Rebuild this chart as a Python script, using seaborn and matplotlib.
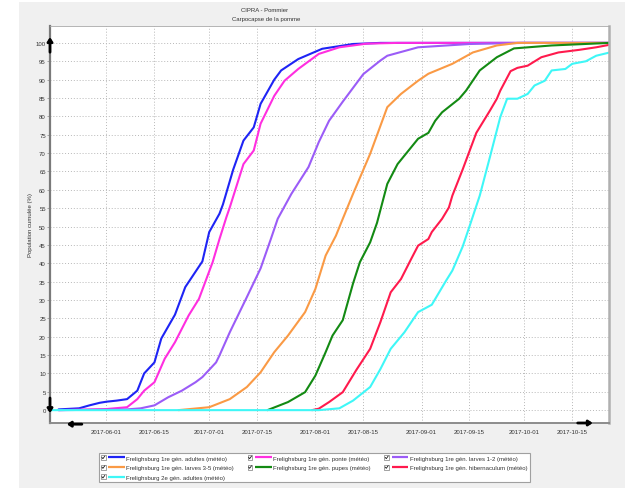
import matplotlib
matplotlib.use("Agg")
import matplotlib.pyplot as plt
import matplotlib.dates as mdates
from matplotlib.lines import Line2D
from matplotlib.patches import Rectangle
from matplotlib.legend_handler import HandlerBase
import pandas as pd
import seaborn as sns

# ---- Cumulative population (%) per development stage, Frelighsburg 2017 ----
adultes1_dates = ["05-18", "05-24", "05-27", "05-30", "06-01", "06-04", "06-07", "06-10",
                  "06-12", "06-15", "06-17", "06-21", "06-24", "06-29", "07-01", "07-04",
                  "07-05", "07-08", "07-11", "07-14", "07-16", "07-20", "07-22", "07-27",
                  "08-03", "08-12", "08-20", "10-26"]
adultes1_pct = [0.2, 0.5, 1.3, 2.0, 2.3, 2.6, 3.0, 5.3, 10.0, 13.0, 19.5, 26.0, 33.5, 40.5,
                48.5, 53.5, 56.0, 65.5, 73.4, 77.0, 83.4, 90.0, 92.5, 95.6, 98.4, 99.7,
                100.0, 100.0]

ponte_dates = ["05-18", "06-01", "06-07", "06-10", "06-12", "06-15", "06-18", "06-21",
               "06-25", "06-28", "07-02", "07-04", "07-06", "07-07", "07-11", "07-14",
               "07-16", "07-20", "07-23", "07-27", "08-02", "08-08", "08-16", "08-25",
               "10-26"]
ponte_pct = [0.0, 0.3, 0.8, 3.0, 5.3, 7.6, 14.0, 18.5, 25.8, 30.3, 40.3, 46.6, 52.5, 55.2,
             67.0, 70.7, 78.0, 85.6, 89.7, 92.9, 97.0, 98.8, 99.8, 100.0, 100.0]

larves12_dates = ["05-18", "06-07", "06-11", "06-15", "06-19", "06-23", "06-27", "06-29",
                  "07-03", "07-04", "07-07", "07-12", "07-16", "07-19", "07-21", "07-25",
                  "07-30", "08-02", "08-05", "08-09", "08-15", "08-20", "08-22", "08-31",
                  "09-15", "10-01", "10-26"]
larves12_pct = [0.0, 0.2, 0.5, 1.3, 3.5, 5.3, 7.6, 9.0, 13.0, 14.9, 21.2, 30.8, 38.6, 46.6,
                52.1, 58.9, 66.2, 73.0, 78.8, 84.0, 91.5, 95.2, 96.5, 98.8, 99.7, 100.0,
                100.0]

larves35_dates = ["06-22", "07-01", "07-07", "07-12", "07-16", "07-20", "07-24", "07-29",
                  "08-01", "08-04", "08-07", "08-09", "08-12", "08-17", "08-22", "08-26",
                  "08-31", "09-03", "09-10", "09-16", "09-23", "09-29", "10-26"]
larves35_pct = [0.0, 0.8, 3.0, 6.3, 10.3, 15.8, 20.3, 26.7, 33.0, 42.1, 47.5, 52.1, 58.9,
                69.8, 82.5, 86.1, 89.7, 91.6, 94.3, 97.4, 99.3, 100.0, 100.0]

pupes_dates = ["07-18", "07-24", "07-29", "08-01", "08-04", "08-06", "08-09", "08-12",
               "08-14", "08-17", "08-19", "08-22", "08-25", "08-31", "09-03", "09-05",
               "09-07", "09-12", "09-14", "09-18", "09-23", "09-28", "10-09", "10-26"]
pupes_pct = [0.0, 2.2, 4.9, 9.4, 15.8, 20.3, 24.5, 34.5, 40.3, 45.7, 51.0, 61.6, 67.0, 73.9,
             75.5, 78.8, 81.1, 84.8, 87.0, 92.5, 96.1, 98.5, 99.3, 100.0]

hibern_dates = ["07-31", "08-02", "08-05", "08-09", "08-13", "08-17", "08-20", "08-23",
                "08-26", "08-29", "08-31", "09-03", "09-04", "09-07", "09-09", "09-10",
                "09-13", "09-17", "09-21", "09-23", "09-24", "09-27", "09-29", "10-02",
                "10-06", "10-11", "10-17", "10-22", "10-26"]
hibern_pct = [0.0, 0.4, 2.2, 4.9, 11.0, 16.7, 24.0, 32.1, 35.7, 41.2, 44.8, 46.6, 48.5, 52.1,
              55.2, 58.4, 65.5, 75.5, 81.6, 84.8, 87.0, 92.3, 93.2, 93.8, 96.1, 97.4, 98.1,
              98.8, 99.5]

adultes2_dates = ["05-15", "08-02", "08-08", "08-12", "08-17", "08-20", "08-23", "08-27",
                  "08-31", "09-04", "09-08", "09-10", "09-13", "09-15", "09-18", "09-21",
                  "09-24", "09-26", "09-29", "10-02", "10-04", "10-07", "10-09", "10-13",
                  "10-15", "10-19", "10-22", "10-26"]
adultes2_pct = [0.0, 0.0, 0.5, 2.6, 6.3, 11.2, 16.7, 21.2, 26.7, 28.7, 35.0, 38.0, 44.5, 50.0,
                58.4, 69.0, 79.8, 84.8, 84.8, 86.1, 88.4, 89.7, 92.5, 92.9, 94.3, 95.0, 96.5,
                97.4]

series_labels = [
    "Frelighsburg 1re gén. adultes (météo)",
    "Frelighsburg 1re gén. ponte (météo)",
    "Frelighsburg 1re gén. larves 1-2 (météo)",
    "Frelighsburg 1re gén. larves 3-5 (météo)",
    "Frelighsburg 1re gén. pupes (météo)",
    "Frelighsburg 1re gén. hibernaculum (météo)",
    "Frelighsburg 2e gén. adultes (météo)",
]
series_colors = ["#1e24f5", "#ff2ee0", "#9b5cf7", "#fa9a45", "#138a13", "#ff1a4d", "#3ff7f7"]
tick_dates = ["2017-06-01", "2017-06-15", "2017-07-01", "2017-07-15", "2017-08-01",
              "2017-08-15", "2017-09-01", "2017-09-15", "2017-10-01", "2017-10-15"]
y_ticks = list(range(0, 101, 5))

# ---- long-form table ----
frames = []
for label, dates, pct in zip(
        series_labels,
        [adultes1_dates, ponte_dates, larves12_dates, larves35_dates,
         pupes_dates, hibern_dates, adultes2_dates],
        [adultes1_pct, ponte_pct, larves12_pct, larves35_pct,
         pupes_pct, hibern_pct, adultes2_pct]):
    frames.append(pd.DataFrame({
        "date": pd.to_datetime(["2017-" + d for d in dates]),
        "pct": pct,
        "serie": label,
    }))
df = pd.concat(frames, ignore_index=True)

sns.set_style("white")
plt.rcParams["font.family"] = ["Liberation Sans", "DejaVu Sans"]
TXT = "#333333"
FS = 4.3

W, H = 625, 489
fig = plt.figure(figsize=(W / 100, H / 100), dpi=100)
fig.patch.set_facecolor("white")
fig.add_artist(Rectangle((19 / W, 0), 1 - 19 / W, 1 - 3 / H, transform=fig.transFigure,
                         facecolor="#f0f0f0", edgecolor="none", zorder=-10))

ax = fig.add_axes([50 / W, 1 - 424 / H, (609 - 50) / W, (424 - 27) / H])
ax.set_facecolor("white")

sns.lineplot(data=df, x="date", y="pct", hue="serie", hue_order=series_labels,
             palette=dict(zip(series_labels, series_colors)), estimator=None,
             linewidth=1.5, legend=False, ax=ax)
for ln in ax.get_lines():
    ln.set_solid_joinstyle("round")

ax.set_xlim(pd.Timestamp("2017-05-15 12:00"), pd.Timestamp("2017-10-25 18:00"))
ax.set_ylim(-3.5, 104.6)
ax.set_xticks(pd.to_datetime(tick_dates))
ax.xaxis.set_major_formatter(mdates.DateFormatter("%Y-%m-%d"))
ax.set_yticks(y_ticks)
ax.set_xlabel("")
ax.set_ylabel("Population cumulée (%)", fontsize=FS, color=TXT)
ax.yaxis.set_label_coords(-0.0345, 0.5)
ax.yaxis.label.set_verticalalignment("center")

ax.grid(True, color="#b8b8b8", linestyle=(0, (1, 2)), linewidth=0.7)
ax.tick_params(axis="x", length=0, pad=4.2, labelsize=FS, labelcolor=TXT)
ax.tick_params(axis="y", length=2.0, width=0.5, color="#888888", pad=1.0,
               labelsize=FS, labelcolor=TXT, left=True)

for side, lw, col in [("left", 1.6, "#7a7a7a"), ("bottom", 1.4, "#8c8c8c"),
                      ("top", 0.6, "#a8a8a8"), ("right", 1.8, "#b0b0b0")]:
    ax.spines[side].set_visible(True)
    ax.spines[side].set_linewidth(lw)
    ax.spines[side].set_color(col)

# navigation arrows on the axes
arrow_kw = dict(arrowstyle="-|>,head_length=0.45,head_width=0.3", color="black",
                lw=2.0, mutation_scale=5, shrinkA=0, shrinkB=0)
for start, end in [((0.0, 0.934), (0.0, 0.972)), ((0.0, 0.063), (0.0, 0.025)),
                   ((0.057, -0.003), (0.030, -0.003)), ((0.944, 0.0), (0.971, 0.0))]:
    ax.annotate("", xy=end, xytext=start, xycoords="axes fraction",
                textcoords="axes fraction", arrowprops=arrow_kw, annotation_clip=False)

fig.text(265 / W, 1 - 10 / H, "CIPRA - Pommier", ha="center", va="center",
         fontsize=FS, color=TXT)
fig.text(266 / W, 1 - 19.5 / H, "Carpocapse de la pomme", ha="center", va="center",
         fontsize=FS, color=TXT)


class CheckedLineHandler(HandlerBase):
    """Legend key: a ticked checkbox followed by the series line."""

    def create_artists(self, legend, orig_handle, xdescent, ydescent, width, height,
                       fontsize, trans):
        cy = height / 2 - ydescent
        s = height * 1.15
        x0 = -xdescent
        box = Rectangle((x0, cy - s / 2), s, s, facecolor="white", edgecolor="#6e6e6e",
                        linewidth=0.45, transform=trans)
        tick = Line2D([x0 + 0.2 * s, x0 + 0.42 * s, x0 + 0.82 * s],
                      [cy + 0.02 * s, cy - 0.25 * s, cy + 0.3 * s],
                      color="#1a1a1a", linewidth=0.6, transform=trans)
        line = Line2D([x0 + s + 2.0, x0 + width], [cy, cy], color=orig_handle.get_color(),
                      linewidth=1.6, solid_capstyle="butt", transform=trans)
        return [box, tick, line]


handles = [Line2D([], [], color=c) for c in series_colors]
order = [0, 3, 6, 1, 4, 2, 5]
leg = fig.legend([handles[i] for i in order], [series_labels[i] for i in order],
                 handler_map={Line2D: CheckedLineHandler()}, ncol=3,
                 loc="upper left", bbox_to_anchor=(98.5 / W, 1 - 454 / H),
                 bbox_transform=fig.transFigure, prop={"size": FS},
                 frameon=True, fancybox=False, framealpha=1, facecolor="white",
                 edgecolor="#a0a0a0", borderpad=0.4, labelspacing=0.75,
                 handlelength=4.0, handleheight=0.7, handletextpad=0.25,
                 columnspacing=2.3, borderaxespad=0)
leg.get_frame().set_linewidth(0.8)
for t in leg.get_texts():
    t.set_color(TXT)

fig.savefig("out.png", dpi=100)
